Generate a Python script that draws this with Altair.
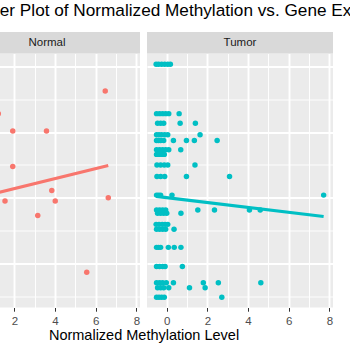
import altair as alt
import pandas as pd

FONT = "Liberation Sans"

facet_names = ["Normal", "Tumor"]
facet_colors = ["#F8766D", "#00BFC4"]

normal_x = [6.47, 1.21, 1.92, 3.58, 1.92, 3.84, 1.54, 4.01, 6.62, 3.15, 5.56]
normal_y = [7.25, 6.56, 6.03, 6.03, 4.95, 4.22, 3.90, 3.90, 4.00, 3.46, 1.73]

tumor_x = [
    -0.52, -0.4, -0.25, -0.1, 0.05, 0.18,
    -0.5, -0.35, -0.2, -0.05, 0.1, 0.61,
    -0.45, -0.3, -0.15, 0.66, 1.41,
    -0.5, -0.38, -0.25, -0.1, 0.05, 1.64,
    -0.5, -0.4, -0.3, -0.15, 0.33, 0.97, 1.36, 2.48,
    -0.5, -0.35, -0.2, -0.05, 0.1, 0.69,
    -0.5, -0.38, -0.25, -0.12,
    -0.48, -0.3, -0.12, 0.05, 1.39,
    -0.48, -0.3, -0.1, 0.97, 3.09,
    -0.5, -0.4, -0.3, 0.26, 7.72,
    -0.5, -0.35, -0.2, -0.05, 1.53, 2.35, 4.07, 4.6,
    -0.45, -0.3, -0.15, 0.0, 0.70,
    -0.52, -0.38, -0.22, -0.08, 0.05,
    -0.5, -0.35, -0.2, -0.05, 0.36,
    -0.5, -0.4, -0.3, 0.08, 0.37, 0.70,
    -0.5, -0.35, -0.2, -0.08, 0.77,
    -0.5, -0.35, -0.2, -0.02, 0.33, 1.8, 2.54, 4.63,
    -0.45, -0.3, -0.15, 0.1, 1.12, 1.89,
    -0.5, -0.38, -0.25, -0.12, 2.71,
]
tumor_y = (
    [8.06] * 6 + [6.56] * 6 + [6.27] * 5 + [5.92] * 6 + [5.74] * 8
    + [5.46] * 6 + [5.32] * 4 + [5.00] * 5 + [4.65] * 5 + [4.08] * 5
    + [3.63] * 8 + [3.53] * 5 + [3.19] * 5 + [3.04] * 5 + [2.49] * 6
    + [1.91] * 5 + [1.41] * 8 + [1.26] * 6 + [0.97] * 5
)

normal_fit_x = [-0.5, 6.62]
normal_fit_y = [3.90, 4.98]
tumor_fit_x = [-0.52, 7.72]
tumor_fit_y = [4.04, 3.43]

x_ticks = list(range(-1, 9))
y_ticks = list(range(1, 9))
x_domain = [-0.97, 8.18]
y_domain = [0.66, 8.39]

TITLE = "Scatter Plot of Normalized Methylation vs. Gene Expression"
X_TITLE = "Normalized Methylation Level"

W, H = 186, 254
STRIP = 21.5
GAP = 7
MAJOR = "datum.value % 2 === 0"


def grid_width():
    return {"condition": {"test": MAJOR, "value": 1.9}, "value": 0.95}


def panel(name, color, xs, ys, fx, fy, with_title):
    pts = pd.DataFrame({"x": xs, "y": ys})
    fit = pd.DataFrame({"x": fx, "y": fy})
    strip_df = pd.DataFrame({"facet": [name]})

    axis_kw = dict(
        values=x_ticks, grid=True, gridColor="white", gridWidth=grid_width(),
        labelExpr="datum.value % 2 === 0 ? datum.label : ''",
        tickOpacity={"condition": {"test": MAJOR, "value": 1}, "value": 0},
        tickColor="#333333", tickSize=3.7, tickWidth=1.0, domain=False,
        labelColor="#4D4D4D", labelFontSize=11.5, labelFont=FONT, labelPadding=4,
    )
    if with_title:
        axis_kw.update(title=X_TITLE, titleX=W + GAP / 2, titleAlign="center",
                       titleFontSize=14.5, titleFont=FONT, titleFontWeight="normal",
                       titleColor="black", titlePadding=2)
    else:
        axis_kw.update(title=None)
    xaxis = alt.Axis(**axis_kw)
    yaxis = alt.Axis(values=y_ticks, grid=True, gridColor="white", gridWidth=grid_width(),
                     labels=False, ticks=False, domain=False, title=None)

    xenc = alt.X("x:Q", scale=alt.Scale(domain=x_domain, nice=False, zero=False), axis=xaxis)
    yenc = alt.Y("y:Q", scale=alt.Scale(domain=y_domain, nice=False, zero=False), axis=yaxis)

    points = alt.Chart(pts).mark_circle(size=30, opacity=1, color=color, clip=True).encode(x=xenc, y=yenc)
    line = alt.Chart(fit).mark_line(color=color, strokeWidth=3.2, clip=True).encode(x=xenc, y=yenc)
    strip = alt.Chart(strip_df).mark_rect(color="#D9D9D9").encode(
        x=alt.value(0), x2=alt.value(W), y=alt.value(-STRIP), y2=alt.value(0))
    label = alt.Chart(strip_df).mark_text(
        fontSize=11.5, color="#1A1A1A", font=FONT, baseline="middle", align="center"
    ).encode(x=alt.value(W / 2), y=alt.value(-STRIP / 2), text="facet:N")
    return alt.layer(strip, label, points, line).properties(width=W, height=H)


p_normal = panel(facet_names[0], facet_colors[0], normal_x, normal_y, normal_fit_x, normal_fit_y, True)
p_tumor = panel(facet_names[1], facet_colors[1], tumor_x, tumor_y, tumor_fit_x, tumor_fit_y, False)

chart = alt.hconcat(p_normal, p_tumor, spacing=GAP, bounds="flush").properties(
    title=alt.TitleParams(text=TITLE, anchor="end", frame="bounds", dx=83.3, fontSize=17.2,
                          font=FONT, fontWeight="normal", color="black",
                          baseline="alphabetic", offset=-1),
    padding={"left": -46, "right": -67, "top": 1.5, "bottom": 0},
    background="white",
).configure_view(fill="#EBEBEB", strokeWidth=0)

chart.save("out.html", embed_options={"renderer": "svg", "actions": False})
